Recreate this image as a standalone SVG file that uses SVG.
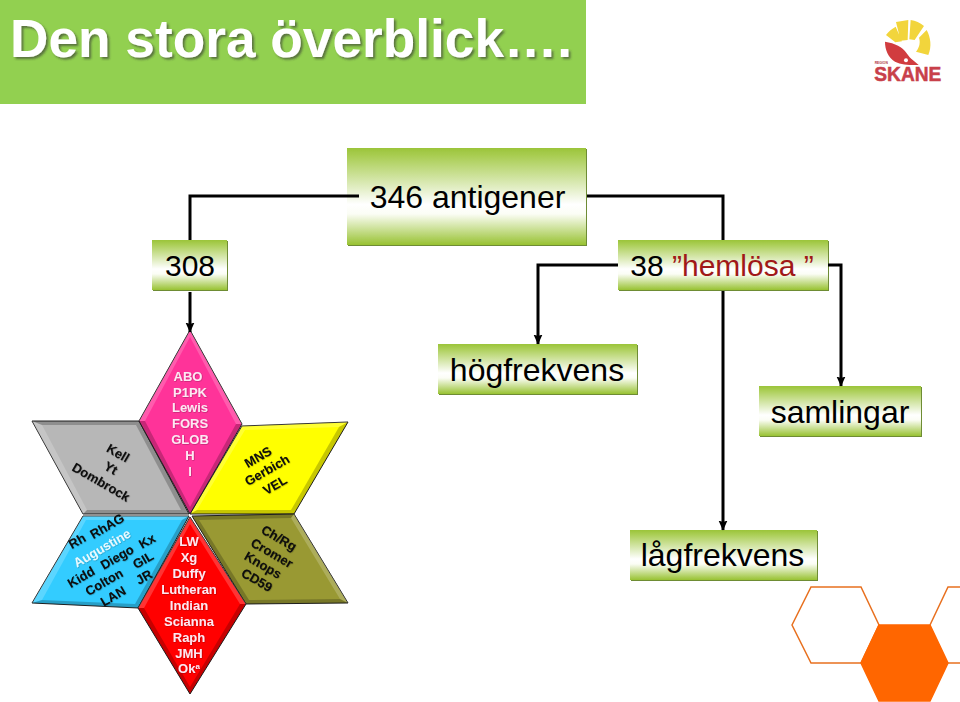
<svg xmlns="http://www.w3.org/2000/svg" width="960" height="702" viewBox="0 0 960 702">
<defs>
<linearGradient id="g" x1="0" y1="0" x2="0" y2="1"><stop offset="0" stop-color="#9bc43a"/><stop offset=".08" stop-color="#a9cd52"/><stop offset=".58" stop-color="#fff"/><stop offset=".68" stop-color="#fbfdf5"/><stop offset="1" stop-color="#98c232"/></linearGradient>
<marker id="a" markerUnits="userSpaceOnUse" markerWidth="10" markerHeight="10" refX="9.5" refY="5" orient="auto"><path d="M0 .5L10 5L0 9.5L1.5 5Z" fill="#000"/></marker>
<filter id="ts" x="-5%" y="-20%" width="110%" height="140%"><feDropShadow dx="2" dy="2" stdDeviation="1" flood-color="#333" flood-opacity=".6"/></filter>
<filter id="bs" x="-5%" y="-5%" width="110%" height="110%"><feDropShadow dx="1" dy="1" stdDeviation=".5" flood-color="#5f7f1a" flood-opacity=".9"/></filter>
<filter id="ss" x="-10%" y="-20%" width="120%" height="140%"><feDropShadow dx=".5" dy=".5" stdDeviation=".4" flood-color="#000" flood-opacity=".35"/></filter>
</defs>
<style>
text{font-family:"Liberation Sans",Arial,sans-serif}
.box{fill:url(#g);filter:url(#bs)}
.lbl{font-size:32px;fill:#000;text-anchor:middle}
.c{fill:none;stroke:#000;stroke-width:3}
.s{stroke:#222;stroke-width:1}
.l{fill:#fff;opacity:.2}
.d{fill:#000;opacity:.22}
.st{font-size:13px;font-weight:bold;text-anchor:middle;filter:url(#ss)}
.w{fill:#fde8f2}
.k{fill:#0a0a0a}
</style>
<rect width="960" height="702" fill="#fff"/>
<g id="title"><rect width="586" height="104" fill="#92d050"/><text x="10" y="57" font-size="54" font-weight="bold" fill="#fff" filter="url(#ts)" textLength="562" lengthAdjust="spacingAndGlyphs">Den stora överblick….</text></g>
<g id="logo" transform="translate(780 0) scale(.3333)">
<path d="M318 105C326 94 336 86 347 80L366 124L346 127Z M348 66L385 60L383 120L362 122Z M392 60C407 62 420 68 432 78L404 120L388 118Z M440 90C452 112 456 140 445 165L408 155C420 140 421 125 417 113Z" fill="#f2d53c"/>
<path d="M315 125C345 130 368 140 380 160C392 178 405 185 416 195C395 196 365 195 345 185C325 172 315 150 315 125Z" fill="#d13c3f"/>
<circle cx="378" cy="181" r="6" fill="#fff"/>
<text x="284" y="191" font-size="10" font-weight="bold" fill="#b03a3f">REGION</text>
<text x="283" y="242" font-size="58" font-weight="bold" fill="#c8404a" stroke="#c8404a" stroke-width="1.5" textLength="201" lengthAdjust="spacingAndGlyphs">SKANE</text>
</g>
<g id="n346"><rect class="box" x="347" y="148" width="239" height="97"/><text class="lbl" x="467.500" y="208">346 antigener</text></g>
<g id="n308"><rect class="box" x="152" y="240" width="75" height="50"/><text class="lbl" x="190" y="276" style="font-size:30px">308</text></g>
<g id="n38"><rect class="box" x="618" y="240" width="210" height="50"/><text class="lbl" x="722" y="276" style="font-size:30px">38 <tspan fill="#a01818">”hemlösa ”</tspan></text></g>
<g id="nhog"><rect class="box" x="438" y="344" width="199" height="50"/><text class="lbl" x="537" y="381">högfrekvens</text></g>
<g id="nsam"><rect class="box" x="759" y="386" width="162" height="50"/><text class="lbl" x="840" y="423">samlingar</text></g>
<g id="nlag"><rect class="box" x="630" y="530" width="187" height="50"/><text class="lbl" x="722.500" y="566">lågfrekvens</text></g>

<g id="star-gray">
<polygon class="s" points="32,421 139,421 189,514 83,514" fill="#b7b7b7"/>
<polygon class="l" points="32,421 42,425 87,510 83,514"/><polygon class="d" points="32,421 139,421 136,425 42,425" opacity=".1"/><polygon class="d" points="139,421 189,514 181,510 136,425"/><polygon class="d" points="83,514 87,510 181,510 189,514"/>
<g class="st k"><text transform="translate(118 453) rotate(30)" dy=".35em">Kell</text><text transform="translate(111 468) rotate(30)" dy=".35em">Yt</text><text transform="translate(101 482) rotate(30)" dy=".35em">Dombrock</text></g>
</g>
<g id="star-yellow">
<polygon class="s" points="242,426 348,422 294,514 190,514" fill="#ffff00"/>
<polygon class="l" points="242,426 348,422 339,427 245,430"/><polygon class="l" points="242,426 245,430 197,510 190,514"/><polygon class="d" points="348,422 294,514 291,510 339,427"/><polygon class="d" points="190,514 197,510 291,510 294,514"/>
<g class="st k"><text transform="translate(258 457) rotate(-30)" dy=".35em">MNS</text><text transform="translate(267 470) rotate(-30)" dy=".35em">Gerbich</text><text transform="translate(275 485) rotate(-30)" dy=".35em">VEL</text></g>
</g>
<g id="star-blue">
<polygon class="s" points="83,516 189,516 138,608 32,603" fill="#33ccff"/>
<polygon class="l" points="83,516 189,516 182,520 86,520"/><polygon class="l" points="83,516 86,520 42,600 32,603"/><polygon class="d" points="189,516 138,608 135,604 182,520"/><polygon class="d" points="32,603 42,600 135,604 138,608"/>
<g class="st k"><text transform="translate(77 541) rotate(-30)" dy=".35em">Rh</text><text transform="translate(107 526) rotate(-30)" dy=".35em">RhAG</text><text transform="translate(102 548) rotate(-30)" dy=".35em" fill="#e8faff">Augustine</text><text transform="translate(81 577) rotate(-30)" dy=".35em">Kidd</text><text transform="translate(117 557) rotate(-30)" dy=".35em">Diego</text><text transform="translate(147 541) rotate(-30)" dy=".35em">Kx</text><text transform="translate(104 582) rotate(-30)" dy=".35em">Colton</text><text transform="translate(143 560) rotate(-30)" dy=".35em">GIL</text><text transform="translate(113 596) rotate(-30)" dy=".35em">LAN</text><text transform="translate(144 577) rotate(-30)" dy=".35em">JR</text></g>
</g>
<g id="star-olive">
<polygon class="s" points="192,516 294,514 348,603 246,604" fill="#999933"/>
<polygon class="d" points="192,516 294,514 291,518 199,520" opacity=".1"/><polygon class="l" points="294,514 348,603 340,599 291,518"/><polygon class="d" points="192,516 199,520 249,600 246,604" opacity=".1"/><polygon class="d" points="246,604 249,600 340,599 348,603"/>
<g class="st k"><text transform="translate(279 538) rotate(30)" dy=".35em">Ch/Rg</text><text transform="translate(272 553) rotate(30)" dy=".35em">Cromer</text><text transform="translate(263 565) rotate(30)" dy=".35em">Knops</text><text transform="translate(257 580) rotate(30)" dy=".35em">CD59</text></g>
</g>
<g id="star-magenta">
<polygon class="s" points="190,330 242,424 190,514 139,421" fill="#ff3399"/>
<polygon class="l" points="190,330 190,337 145,421 139,421"/><polygon class="l" points="190,330 242,424 236,424 190,337"/><polygon class="d" points="242,424 190,514 190,507 236,424"/><polygon class="d" points="190,514 139,421 145,421 190,507"/>
<g class="st w"><text x="188" y="381">ABO</text><text x="190" y="397">P1PK</text><text x="190" y="412">Lewis</text><text x="190" y="428">FORS</text><text x="190" y="444">GLOB</text><text x="190" y="460">H</text><text x="190" y="476">I</text></g>
</g>
<g id="star-red">
<polygon class="s" points="190,517 246,604 190,694 138,608" fill="#ff0000"/>
<polygon class="l" points="190,517 190,524 144,608 138,608"/><polygon class="l" points="190,517 246,604 240,604 190,524"/><polygon class="d" points="246,604 190,694 190,687 240,604"/><polygon class="d" points="190,694 138,608 144,608 190,687"/>
<g class="st w"><text x="189" y="546">LW</text><text x="189" y="562">Xg</text><text x="189" y="578">Duffy</text><text x="189" y="594">Lutheran</text><text x="189" y="610">Indian</text><text x="189" y="626">Scianna</text><text x="189" y="642">Raph</text><text x="189" y="658">JMH</text><text x="189" y="673">Ok<tspan font-size="8" dy="-4">a</tspan></text></g>
</g>
<g id="hexagons" fill="none" stroke="#e8701f" stroke-width="1.5">
<polygon points="792,625 811,587 861,587 879,625 861,663 811,663" fill="#fff"/>
<polygon points="879,625 930,625 948,663 930,701 879,701 861,663" fill="#ff6600" stroke="#ff6600"/>
<path d="M930 625L948 587H960M948 663H960"/>
</g>
<g id="connectors">
<path class="c" d="M359 196H190V240"/>
<path class="c" d="M587 196H723V240"/>
<path class="c" d="M190 292V332" marker-end="url(#a)"/>
<path class="c" d="M618 265H538V344" marker-end="url(#a)"/>
<path class="c" d="M828 265H841V386" marker-end="url(#a)"/>
<path class="c" d="M723 291V530" marker-end="url(#a)"/>
</g>
</svg>
